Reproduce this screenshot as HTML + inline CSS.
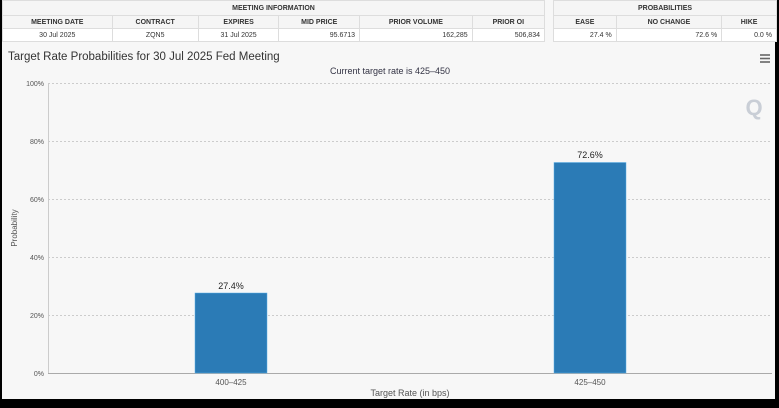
<!DOCTYPE html>
<html><head><meta charset="utf-8"><style>
body{margin:0;width:779px;height:408px;background:#000;overflow:hidden;font-family:"Liberation Sans",sans-serif;}
#p{position:absolute;left:2px;top:0;width:773px;height:399px;background:#f7f7f7;}
table{position:absolute;top:0;border-collapse:collapse;background:#fff;font-size:7px;color:#333}
td{border:1px solid #ddd;height:12px;padding:0 4px}
.h td{font-weight:bold;text-align:center;background:#f5f5f5}
.d td{text-align:right}
</style></head><body><div id="p">
<table style="left:0;width:543px">
<tr class="h"><td colspan="6" style="height:14px">MEETING INFORMATION</td></tr>
<tr class="h"><td>MEETING DATE</td><td>CONTRACT</td><td>EXPIRES</td><td>MID PRICE</td><td>PRIOR VOLUME</td><td>PRIOR OI</td></tr>
<tr class="d"><td style="text-align:center">30 Jul 2025</td><td style="text-align:center">ZQN5</td><td style="text-align:center">31 Jul 2025</td><td>95.6713</td><td>162,285</td><td>506,834</td></tr>
</table>
<table style="left:551px;width:224px">
<tr class="h"><td colspan="3" style="height:14px">PROBABILITIES</td></tr>
<tr class="h"><td>EASE</td><td>NO CHANGE</td><td>HIKE</td></tr>
<tr class="d"><td>27.4 %</td><td>72.6 %</td><td>0.0 %</td></tr>
</table>
</div>
<svg width="779" height="408" style="position:absolute;left:0;top:0" font-family="Liberation Sans, sans-serif">
<text x="8" y="60" font-size="11.5" fill="#333">Target Rate Probabilities for 30 Jul 2025 Fed Meeting</text>
<text x="390" y="74" font-size="9" fill="#334" text-anchor="middle">Current target rate is 425–450</text>
<g stroke="#666" stroke-width="1.6"><line x1="760" y1="55" x2="770" y2="55"/><line x1="760" y1="58.5" x2="770" y2="58.5"/><line x1="760" y1="62" x2="770" y2="62"/></g>
<text x="754" y="115" font-size="22" font-weight="bold" fill="#c9ced6" text-anchor="middle">Q</text>
<g stroke="#ccc" stroke-dasharray="2,2" stroke-width="1">
<line x1="48" y1="83.5" x2="772" y2="83.5"/><line x1="48" y1="141.5" x2="772" y2="141.5"/><line x1="48" y1="199.5" x2="772" y2="199.5"/><line x1="48" y1="257.5" x2="772" y2="257.5"/><line x1="48" y1="315.5" x2="772" y2="315.5"/></g>
<line x1="48.5" y1="83" x2="48.5" y2="373" stroke="#ccc"/>
<line x1="48" y1="373.5" x2="772" y2="373.5" stroke="#aaa"/>
<g font-size="7" fill="#555" text-anchor="end">
<text x="44" y="86">100%</text><text x="44" y="144">80%</text><text x="44" y="202">60%</text><text x="44" y="260">40%</text><text x="44" y="318">20%</text><text x="44" y="376">0%</text></g>
<text transform="translate(17,228) rotate(-90)" font-size="8" fill="#555" text-anchor="middle">Probability</text>
<rect x="195" y="293" width="72" height="80" fill="#2b7bb6" stroke="#5ab0e8" stroke-width="0.5"/>
<rect x="554" y="162.5" width="72" height="210.5" fill="#2b7bb6" stroke="#5ab0e8" stroke-width="0.5"/>
<g font-size="9" fill="#222" text-anchor="middle"><text x="231" y="289">27.4%</text><text x="590" y="158">72.6%</text></g>
<g font-size="8" fill="#555" text-anchor="middle"><text x="231" y="385">400–425</text><text x="590" y="385">425–450</text>
<text x="410" y="396" font-size="9">Target Rate (in bps)</text></g>
</svg>
</body></html>
